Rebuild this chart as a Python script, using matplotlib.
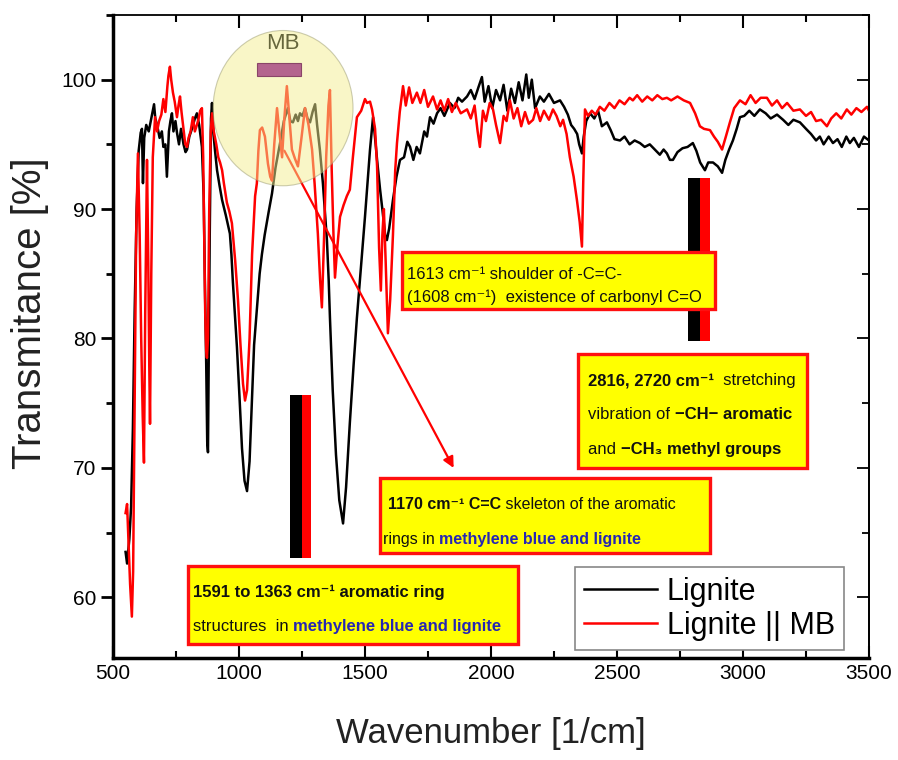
##### FTIR spectra: Lignite vs Lignite || MB #####
import numpy as np
import matplotlib
matplotlib.use('Agg')
import matplotlib.pyplot as plt
from matplotlib.patches import Rectangle, Ellipse
from matplotlib.ticker import MultipleLocator

plt.rcParams['font.family'] = ['Liberation Sans', 'DejaVu Sans']

# Lignite spectrum (black)
lig_x = [550, 556, 565, 572, 579, 586, 594, 602, 610, 615, 619, 624, 632, 642, 652, 663, 668, 675, 685, 694,
         700, 708, 714, 722, 728, 734, 740, 748, 754, 762, 770, 780, 788, 794, 803, 815, 825, 833, 842, 853,
         860, 865, 870, 874, 877, 880, 884, 889, 893, 898, 905, 913, 923, 933, 948, 964, 970, 976, 985, 992,
         1002, 1012, 1022, 1032, 1042, 1052, 1060, 1070, 1082, 1091, 1102, 1118, 1131, 1145, 1163, 1178, 1194,
         1204, 1214, 1225, 1234, 1242, 1252, 1262, 1272, 1282, 1292, 1302, 1310, 1321, 1333, 1342, 1349, 1356,
         1361, 1372, 1385, 1398, 1413, 1425, 1440, 1455, 1468, 1484, 1500, 1510, 1520, 1532, 1540, 1548, 1560,
         1570, 1580, 1587, 1596, 1611, 1625, 1639, 1655, 1668, 1679, 1692, 1705, 1718, 1735, 1746, 1758, 1772,
         1786, 1800, 1815, 1837, 1855, 1870, 1885, 1905, 1920, 1935, 1950, 1964, 1975, 1990, 2005, 2020, 2036,
         2050, 2065, 2080, 2095, 2110, 2125, 2140, 2150, 2162, 2175, 2194, 2210, 2230, 2250, 2274, 2290, 2305,
         2318, 2330, 2342, 2350, 2361, 2368, 2378, 2393, 2410, 2425, 2440, 2460, 2475, 2490, 2512, 2530, 2550,
         2570, 2591, 2610, 2630, 2650, 2670, 2685, 2698, 2710, 2722, 2740, 2760, 2780, 2801, 2815, 2830, 2849,
         2862, 2881, 2900, 2917, 2930, 2945, 2960, 2975, 2988, 3005, 3025, 3045, 3067, 3090, 3110, 3135, 3159,
         3180, 3200, 3226, 3250, 3270, 3290, 3305, 3320, 3340, 3357, 3375, 3392, 3410, 3424, 3440, 3460, 3480, 3500]
lig_y = [63.5, 62.6, 64.5, 67, 73, 82, 90, 94.5, 95.9, 96.2, 92, 95.5, 96.5, 96, 97, 98.1, 97, 96.5, 95.5, 96,
         94.8, 95, 92.5, 96, 96.8, 97.4, 96, 96.8, 95.9, 95, 96.2, 95, 94.4, 94.6, 95.6, 96.3, 97, 97.4, 96.5, 94.8,
         91, 84, 78, 72, 71.2, 78, 88, 97, 98.2, 96, 94.5, 93, 91.8, 90.7, 89.5, 88.1, 86.5, 84.3, 81.5, 79.3,
         75.5, 71.5, 69, 68.2, 70.5, 75.5, 79.5, 82, 85, 86.5, 88, 89.8, 91.2, 93.2, 95.1, 96.8, 97.8,
         96.8, 96.7, 97.3, 96.8, 97.4, 97.2, 97.8, 97, 96.7, 97.5, 98.1, 96.5, 94.6, 92, 89.5, 87.6, 84.5,
         81.6, 76, 71, 67.5, 65.7, 68.5, 73.5, 78, 81.6, 85.5, 89.4, 92, 94.6, 97.1, 95.5, 93.8, 91.5,
         89.8, 88, 87.6, 88.5, 90.7, 92.5, 93.8, 94, 95.2, 94.8, 93.8, 94.8, 94.3, 96, 95.6, 97.1, 96.6,
         97.4, 97.8, 97.2, 98.2, 97.8, 98.6, 98.3, 98.7, 99.2, 98.5, 99.4, 100.2, 98.3, 99.5, 97.8, 99.2, 98.4,
         99.6, 97.6, 99.3, 98.2, 99.8, 98.4, 100.4, 98.6, 100, 97.8, 98.7, 98.3, 98.9, 98.2, 98.4, 97.9, 97.3,
         96.5, 96.2, 95.8, 95, 94.3, 95.6, 96.8, 97.4, 97, 97.6, 96.4, 96.7, 96.1, 95.4, 95.3, 95.6, 95,
         95.3, 95.1, 94.8, 95, 94.6, 94.2, 94.6, 94.3, 93.8, 93.8, 94.4, 94.7, 94.8, 95.1, 94.5, 93.6, 93,
         93.6, 93.6, 93.3, 92.8, 93.8, 94.6, 95.3, 96.2, 97.1, 97.2, 97.6, 97.2, 97.7, 97.4, 97, 97.3, 96.9,
         96.5, 96.9, 96.7, 96.2, 95.8, 95.3, 95.6, 95, 95.6, 95.1, 95.4, 94.8, 95.6, 95.1, 95.5, 94.8, 95.6, 95.3]

# Lignite || MB spectrum (red)
mb_x = [550, 556, 562, 568, 575, 580, 586, 592, 599, 606, 612, 618, 623, 628, 635, 640, 644, 647, 652, 658,
        667, 675, 683, 692, 700, 708, 716, 720, 726, 731, 738, 745, 754, 760, 766, 772, 780, 787, 794, 800,
        808, 817, 825, 833, 840, 846, 853, 858, 862, 866, 870, 873, 877, 882, 888, 893, 900, 910, 918, 925,
        933, 940, 952, 962, 972, 985, 996, 1006, 1016, 1024, 1032, 1042, 1052, 1064, 1071, 1077, 1083, 1092,
        1103, 1115, 1124, 1131, 1140, 1151, 1160, 1171, 1180, 1190, 1200, 1210, 1222, 1234, 1248, 1262, 1276,
        1290, 1300, 1313, 1322, 1329, 1338, 1346, 1355, 1361, 1368, 1375, 1381, 1390, 1401, 1415, 1428, 1440,
        1452, 1468, 1485, 1500, 1508, 1520, 1528, 1540, 1548, 1556, 1563, 1569, 1575, 1582, 1591, 1600, 1611,
        1620, 1627, 1638, 1651, 1662, 1675, 1688, 1706, 1720, 1735, 1750, 1770, 1786, 1800, 1815, 1830, 1845,
        1860, 1880, 1905, 1920, 1935, 1947, 1956, 1968, 1980, 1995, 2008, 2020, 2036, 2050, 2062, 2075, 2090,
        2105, 2120, 2135, 2150, 2167, 2180, 2195, 2210, 2230, 2246, 2260, 2275, 2286, 2300, 2313, 2328, 2341,
        2352, 2361, 2366, 2373, 2385, 2400, 2415, 2432, 2450, 2470, 2490, 2510, 2530, 2550, 2563, 2580, 2600,
        2620, 2640, 2660, 2680, 2698, 2715, 2740, 2765, 2790, 2810, 2829, 2845, 2869, 2885, 2900, 2917, 2932,
        2948, 2965, 2988, 3010, 3030, 3050, 3070, 3095, 3115, 3135, 3155, 3175, 3200, 3226, 3250, 3270, 3290,
        3310, 3333, 3350, 3370, 3390, 3412, 3430, 3450, 3470, 3492, 3500]
mb_y = [66.5, 67.2, 64, 61, 58.5, 62, 75, 88, 94.3, 88, 80, 74, 70.4, 82, 93.8, 86, 78, 73.4, 85, 94,
        97.1, 96, 96.8, 97.3, 98.5, 97.5, 99.5, 100.3, 101, 100, 99, 98.3, 97.1, 98, 98.7, 97.5, 96.2, 95, 94.8, 95.5,
        96, 97.1, 96, 96.5, 97, 97.6, 97.8, 94, 88, 82, 79, 78.5, 80, 90, 96, 97.4, 96, 95, 94, 93.6,
        93, 92, 90.5, 89.8, 88.9, 86, 83, 79.5, 76.5, 75.2, 76, 80, 86.5, 91, 92, 94.5, 96.1, 96.3,
        95.6, 93.5, 92.5, 92.2, 95, 97.8, 96, 94, 97, 99.5, 97, 94.6, 93.9, 93.3, 95.5, 97.8, 96.5,
        94.6, 92, 88.1, 84.5, 82.4, 88, 94, 98, 99.2, 93, 88, 84.7, 87, 89.4, 90.3, 91, 91.5,
        94, 97.1, 97.6, 98.5, 98.2, 98.3, 97.7, 96.2, 93.3, 87, 83.7, 88, 90, 86, 80.4, 83, 88,
        93, 95.1, 97.5, 99.5, 98, 99.4, 98.2, 99, 98.2, 99.2, 97.9, 98.7, 97.7, 98.4, 97.6, 98.5, 97.5,
        98.2, 97.4, 97.7, 97, 98, 96, 94.8, 97.6, 96.8, 98.2, 97.7, 96.5, 95.1, 97.2, 96.8, 98.4, 97,
        97.8, 96.4, 97.5, 96.6, 96.9, 97.8, 96.8, 97.6, 96.9, 97.7, 97.2, 96.4, 96.9, 95.8, 94, 92.5, 90.7,
        89, 87.1, 92, 97.7, 97.2, 97.6, 97.3, 97.9, 97.6, 98.2, 97.8, 98.4, 98.1, 98.6, 98.4, 98.8, 98.3,
        98.7, 98.4, 98.8, 98.5, 98.6, 98.4, 98.7, 98.4, 98.2, 97.4, 96.4, 96.2, 96.1, 95.6, 95.2, 94.6, 95.6,
        96.7, 97.8, 98.4, 98.1, 98.8, 98.2, 98.6, 98.6, 98, 98.4, 97.8, 98.2, 97.6, 97.7, 97.2, 97.5, 96.8,
        96.9, 96.4, 97, 97.4, 97, 97.7, 97.3, 97.8, 97.5, 97.9, 97.6]

series_labels = ['Lignite', 'Lignite || MB']

# annotation boxes (data coords: x0, x1, y0, y1)
box_1613 = (1647, 2889, 82.3, 86.7)
box_2816 = (2345, 3254, 70.0, 78.8)
box_1170 = (1559, 2869, 63.4, 69.2)
box_1591 = (798, 2107, 56.4, 62.4)
bar_left = (1202, 1250, 1286, 63.0, 75.6)      # black x0, split, red x1, y0, y1
bar_right = (2782, 2829, 2869, 79.8, 92.4)

blue = '#2626b4'
ink = '#111111'
inv_cm = 'cm\u207b\u00b9'


def rich_line(ax, x, y, parts, size=12):
    # parts: list of (text, weight, colour), placed one after the other on the same baseline
    renderer = ax.figure.canvas.get_renderer()
    for s, w, c in parts:
        t = ax.text(x, y, s, fontsize=size, fontweight=w, color=c, ha='left', va='baseline', zorder=7)
        bb = t.get_window_extent(renderer)
        x = ax.transData.inverted().transform((bb.x1, bb.y0))[0]


def yellow_box(ax, b):
    ax.add_patch(Rectangle((b[0], b[2]), b[1] - b[0], b[3] - b[2], facecolor='#ffff00',
                           edgecolor='#ff1010', lw=2.4, zorder=6))


fig = plt.figure(figsize=(8.98, 7.6), dpi=100)
ax = fig.add_axes([0.1258, 0.1342, 0.8419, 0.8461])

l1, = ax.plot(lig_x, lig_y, color='black', lw=1.8, zorder=2, label=series_labels[0])
l2, = ax.plot(mb_x, mb_y, color='#ff0000', lw=1.8, zorder=2.2, label=series_labels[1])

ax.set_xlim(500, 3500)
ax.set_ylim(55.3, 105)

# arrow from MB region to the 1170 box
ax.annotate('', xy=(1857, 69.8), xytext=(1175, 94.7),
            arrowprops=dict(arrowstyle='-|>', color='#ff0000', lw=1.6, mutation_scale=16), zorder=2.5)

# MB circle
ax.add_patch(Ellipse((1175, 97.8), 555, 12.0, facecolor='#f5ef91', alpha=0.5,
                     edgecolor='#9a9a70', lw=0.8, zorder=3))
ax.text(1175, 102.0, 'MB', fontsize=16, color='#66663c', ha='center', va='bottom', zorder=4)
ax.add_patch(Rectangle((1071, 100.25), 175, 1.0, facecolor='#b4648e', edgecolor='#8a4568',
                       lw=0.8, zorder=4))

# vertical black/red marker bars
for b in (bar_left, bar_right):
    ax.add_patch(Rectangle((b[0], b[3]), b[1] - b[0], b[4] - b[3], facecolor='black', lw=0, zorder=5))
    ax.add_patch(Rectangle((b[1], b[3]), b[2] - b[1], b[4] - b[3], facecolor='#ff0000', lw=0, zorder=5))

# annotation boxes
for b in (box_1613, box_2816, box_1170, box_1591):
    yellow_box(ax, b)

rich_line(ax, 1668, 84.6, [('1613 ' + inv_cm + ' shoulder of -C=C-', 'normal', ink)], 12)
rich_line(ax, 1668, 82.8, [('(1608 ' + inv_cm + ')  existence of carbonyl C=O', 'normal', ink)], 12)

rich_line(ax, 2385, 76.4, [('2816, 2720 ' + inv_cm, 'bold', ink), ('  stretching', 'normal', ink)], 12)
rich_line(ax, 2385, 73.8, [('vibration of ', 'normal', ink), ('\u2212CH\u2212 aromatic', 'bold', ink)], 12)
rich_line(ax, 2385, 71.1, [('and ', 'normal', ink), ('\u2212CH\u2083 methyl groups', 'bold', ink)], 12)

rich_line(ax, 1590, 66.8, [('1170 ' + inv_cm + ' C=C', 'bold', ink), (' skeleton of the aromatic', 'normal', ink)], 11.5)
rich_line(ax, 1570, 64.1, [('rings in ', 'normal', ink), ('methylene blue and lignite', 'bold', blue)], 11.5)

rich_line(ax, 818, 60.0, [('1591 to 1363 ' + inv_cm + ' aromatic ring', 'bold', ink)], 12)
rich_line(ax, 818, 57.4, [('structures  in ', 'normal', ink), ('methylene blue and lignite', 'bold', blue)], 12)

# axes styling
ax.xaxis.set_major_locator(MultipleLocator(500))
ax.xaxis.set_minor_locator(MultipleLocator(250))
ax.yaxis.set_major_locator(MultipleLocator(10))
ax.yaxis.set_minor_locator(MultipleLocator(5))
ax.tick_params(axis='x', which='both', direction='in', top=True, width=1.5, labelsize=15, pad=4)
ax.tick_params(axis='x', which='major', length=9)
ax.tick_params(axis='x', which='minor', length=5)
ax.tick_params(axis='y', which='both', direction='out', right=False, width=2, labelsize=15, pad=3)
ax.tick_params(axis='y', which='major', length=9)
ax.tick_params(axis='y', which='minor', length=5)
for side in ['left', 'bottom']:
    ax.spines[side].set_linewidth(2.5)
for side in ['top', 'right']:
    ax.spines[side].set_linewidth(1.3)

secy = ax.secondary_yaxis('right')
secy.yaxis.set_major_locator(MultipleLocator(10))
secy.yaxis.set_minor_locator(MultipleLocator(5))
secy.tick_params(axis='y', which='both', direction='in', labelright=False, width=1.3)
secy.tick_params(axis='y', which='major', length=9)
secy.tick_params(axis='y', which='minor', length=5)
secy.spines['right'].set_linewidth(1.3)

ax.set_xlabel('Wavenumber [1/cm]', fontsize=25, color='#222222')
ax.set_ylabel('Transmitance [%]', fontsize=29, color='#222222')
ax.xaxis.set_label_coords(0.5, -0.092)
ax.yaxis.set_label_coords(-0.085, 0.537)

leg = ax.legend(handles=[l1, l2], loc='lower left', bbox_to_anchor=(0.611, 0.012), borderaxespad=0,
                fontsize=22, handlelength=2.4, handletextpad=0.3, labelspacing=0.15,
                fancybox=False, framealpha=1, edgecolor='#888888', borderpad=0.3)
leg.get_frame().set_linewidth(1.2)
leg.set_zorder(8)

plt.savefig('out.png', dpi=100)
plt.close(None)
